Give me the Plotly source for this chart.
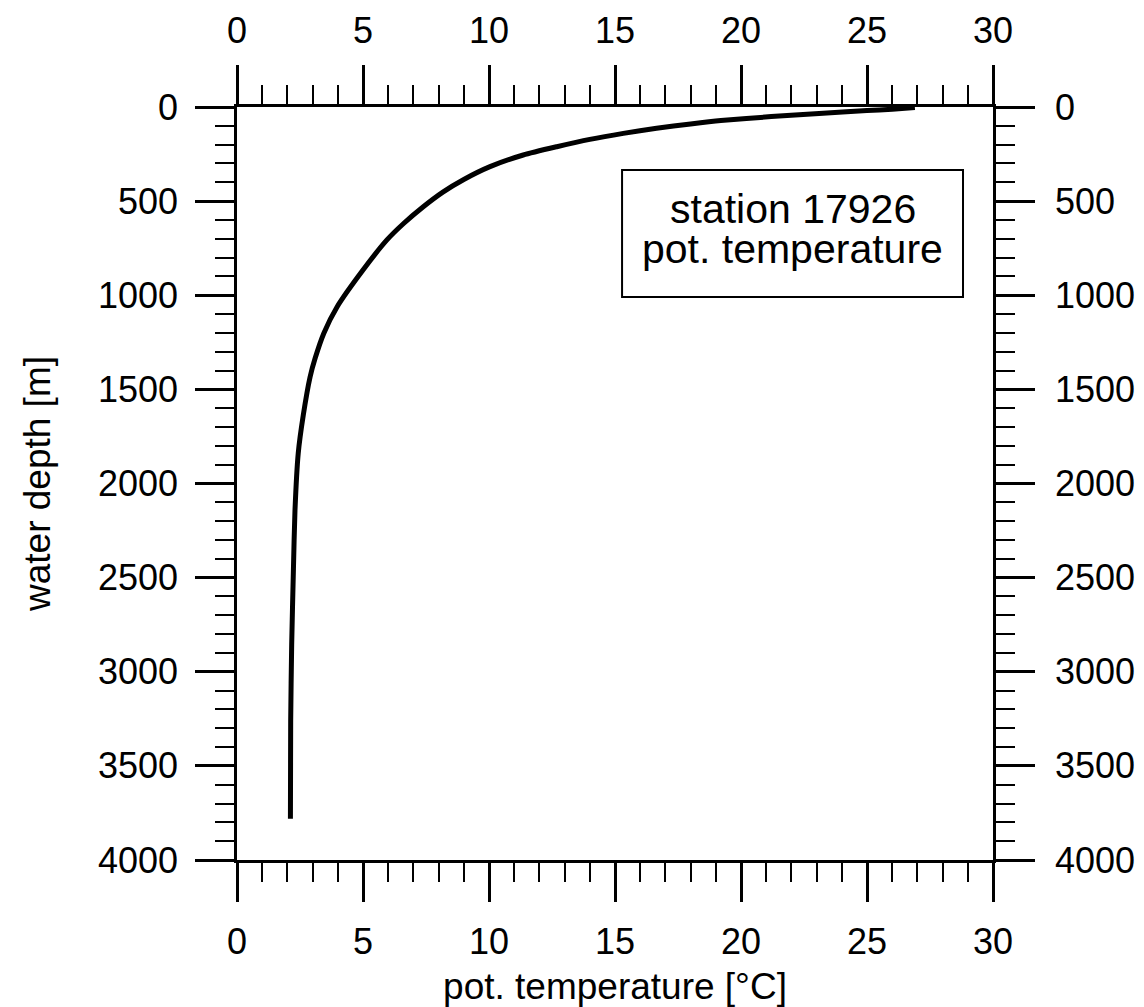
import plotly.graph_objects as go

# Potential temperature profile, station 17926
temperature = [26.9, 26.0, 25.0, 23.1, 21.2, 19.2, 18.0, 16.65, 15.33, 14.0, 12.69,
               11.36, 10.04, 9.0, 8.17, 7.38, 6.6, 5.95, 5.0, 3.97, 3.45, 3.10,
               2.9, 2.63, 2.43, 2.3, 2.24, 2.17, 2.13, 2.12]
depth = [3, 12, 19, 34, 51, 72, 90, 113, 140, 172, 211,
         255, 317, 385, 452, 531, 620, 706, 866, 1062, 1200, 1335,
         1434, 1637, 1839, 2146, 2450, 2856, 3262, 3781]

x_ticks = [0, 5, 10, 15, 20, 25, 30]
y_ticks = [0, 500, 1000, 1500, 2000, 2500, 3000, 3500, 4000]

box_lines = ["station 17926", "pot. temperature"]
box_x = [15.28, 28.81]
box_y = [335, 1009]
x_title = "pot. temperature [°C]"
y_title = "water depth [m]"

FONT = "Liberation Sans, Arial, Helvetica, sans-serif"

fig = go.Figure()
fig.add_trace(go.Scatter(x=temperature, y=depth, mode="lines",
                         line=dict(color="black", width=5, shape="spline", smoothing=0.6),
                         showlegend=False, hoverinfo="skip"))
# transparent copy so the top/right axes are drawn
fig.add_trace(go.Scatter(x=temperature, y=depth, mode="lines", xaxis="x2", yaxis="y2",
                         line=dict(color="rgba(0,0,0,0)", width=0),
                         showlegend=False, hoverinfo="skip"))

common = dict(
    showgrid=False, zeroline=False,
    showline=True, linecolor="black", linewidth=2.5,
    ticks="outside", ticklen=39, tickwidth=2.5, tickcolor="black",
    tickfont=dict(family=FONT, size=36, color="black"),
)
minor_x = dict(dtick=1, tick0=0, ticks="outside", ticklen=19, tickwidth=2, tickcolor="black")
minor_y = dict(dtick=100, tick0=0, ticks="outside", ticklen=19, tickwidth=2, tickcolor="black")

fig.update_layout(
    width=1144, height=1007,
    margin=dict(l=237, r=151, t=107, b=147, autoexpand=False),
    paper_bgcolor="white", plot_bgcolor="white",
    font=dict(family=FONT, color="black"),
    xaxis=dict(range=[0, 30], tickmode="array", tickvals=x_ticks, minor=minor_x,
               side="bottom", ticklabelstandoff=9,
               title=dict(text=x_title, font=dict(family=FONT, size=37), standoff=19),
               **common),
    xaxis2=dict(range=[0, 30], tickmode="array", tickvals=x_ticks, overlaying="x", side="top",
                anchor="y", minor=minor_x, ticklabelstandoff=8, **common),
    yaxis=dict(range=[4000, 0], tickmode="array", tickvals=y_ticks, minor=minor_y,
               side="left", ticklabelstandoff=10,
               title=dict(text=y_title, font=dict(family=FONT, size=37), standoff=37),
               **common),
    yaxis2=dict(range=[4000, 0], tickmode="array", tickvals=y_ticks, overlaying="y", side="right",
                anchor="x", minor=minor_y, ticklabelstandoff=13, **common),
    shapes=[dict(type="rect", xref="x", yref="y", x0=box_x[0], x1=box_x[1], y0=box_y[0], y1=box_y[1],
                 line=dict(color="black", width=2), fillcolor="white", layer="above")],
    annotations=[
        dict(x=(box_x[0] + box_x[1]) / 2, y=542, xref="x", yref="y", text=box_lines[0], showarrow=False,
             font=dict(family=FONT, size=41, color="black"), xanchor="center", yanchor="middle"),
        dict(x=(box_x[0] + box_x[1]) / 2, y=755, xref="x", yref="y", text=box_lines[1], showarrow=False,
             font=dict(family=FONT, size=41, color="black"), xanchor="center", yanchor="middle"),
    ],
)

fig.write_html("out.html")
